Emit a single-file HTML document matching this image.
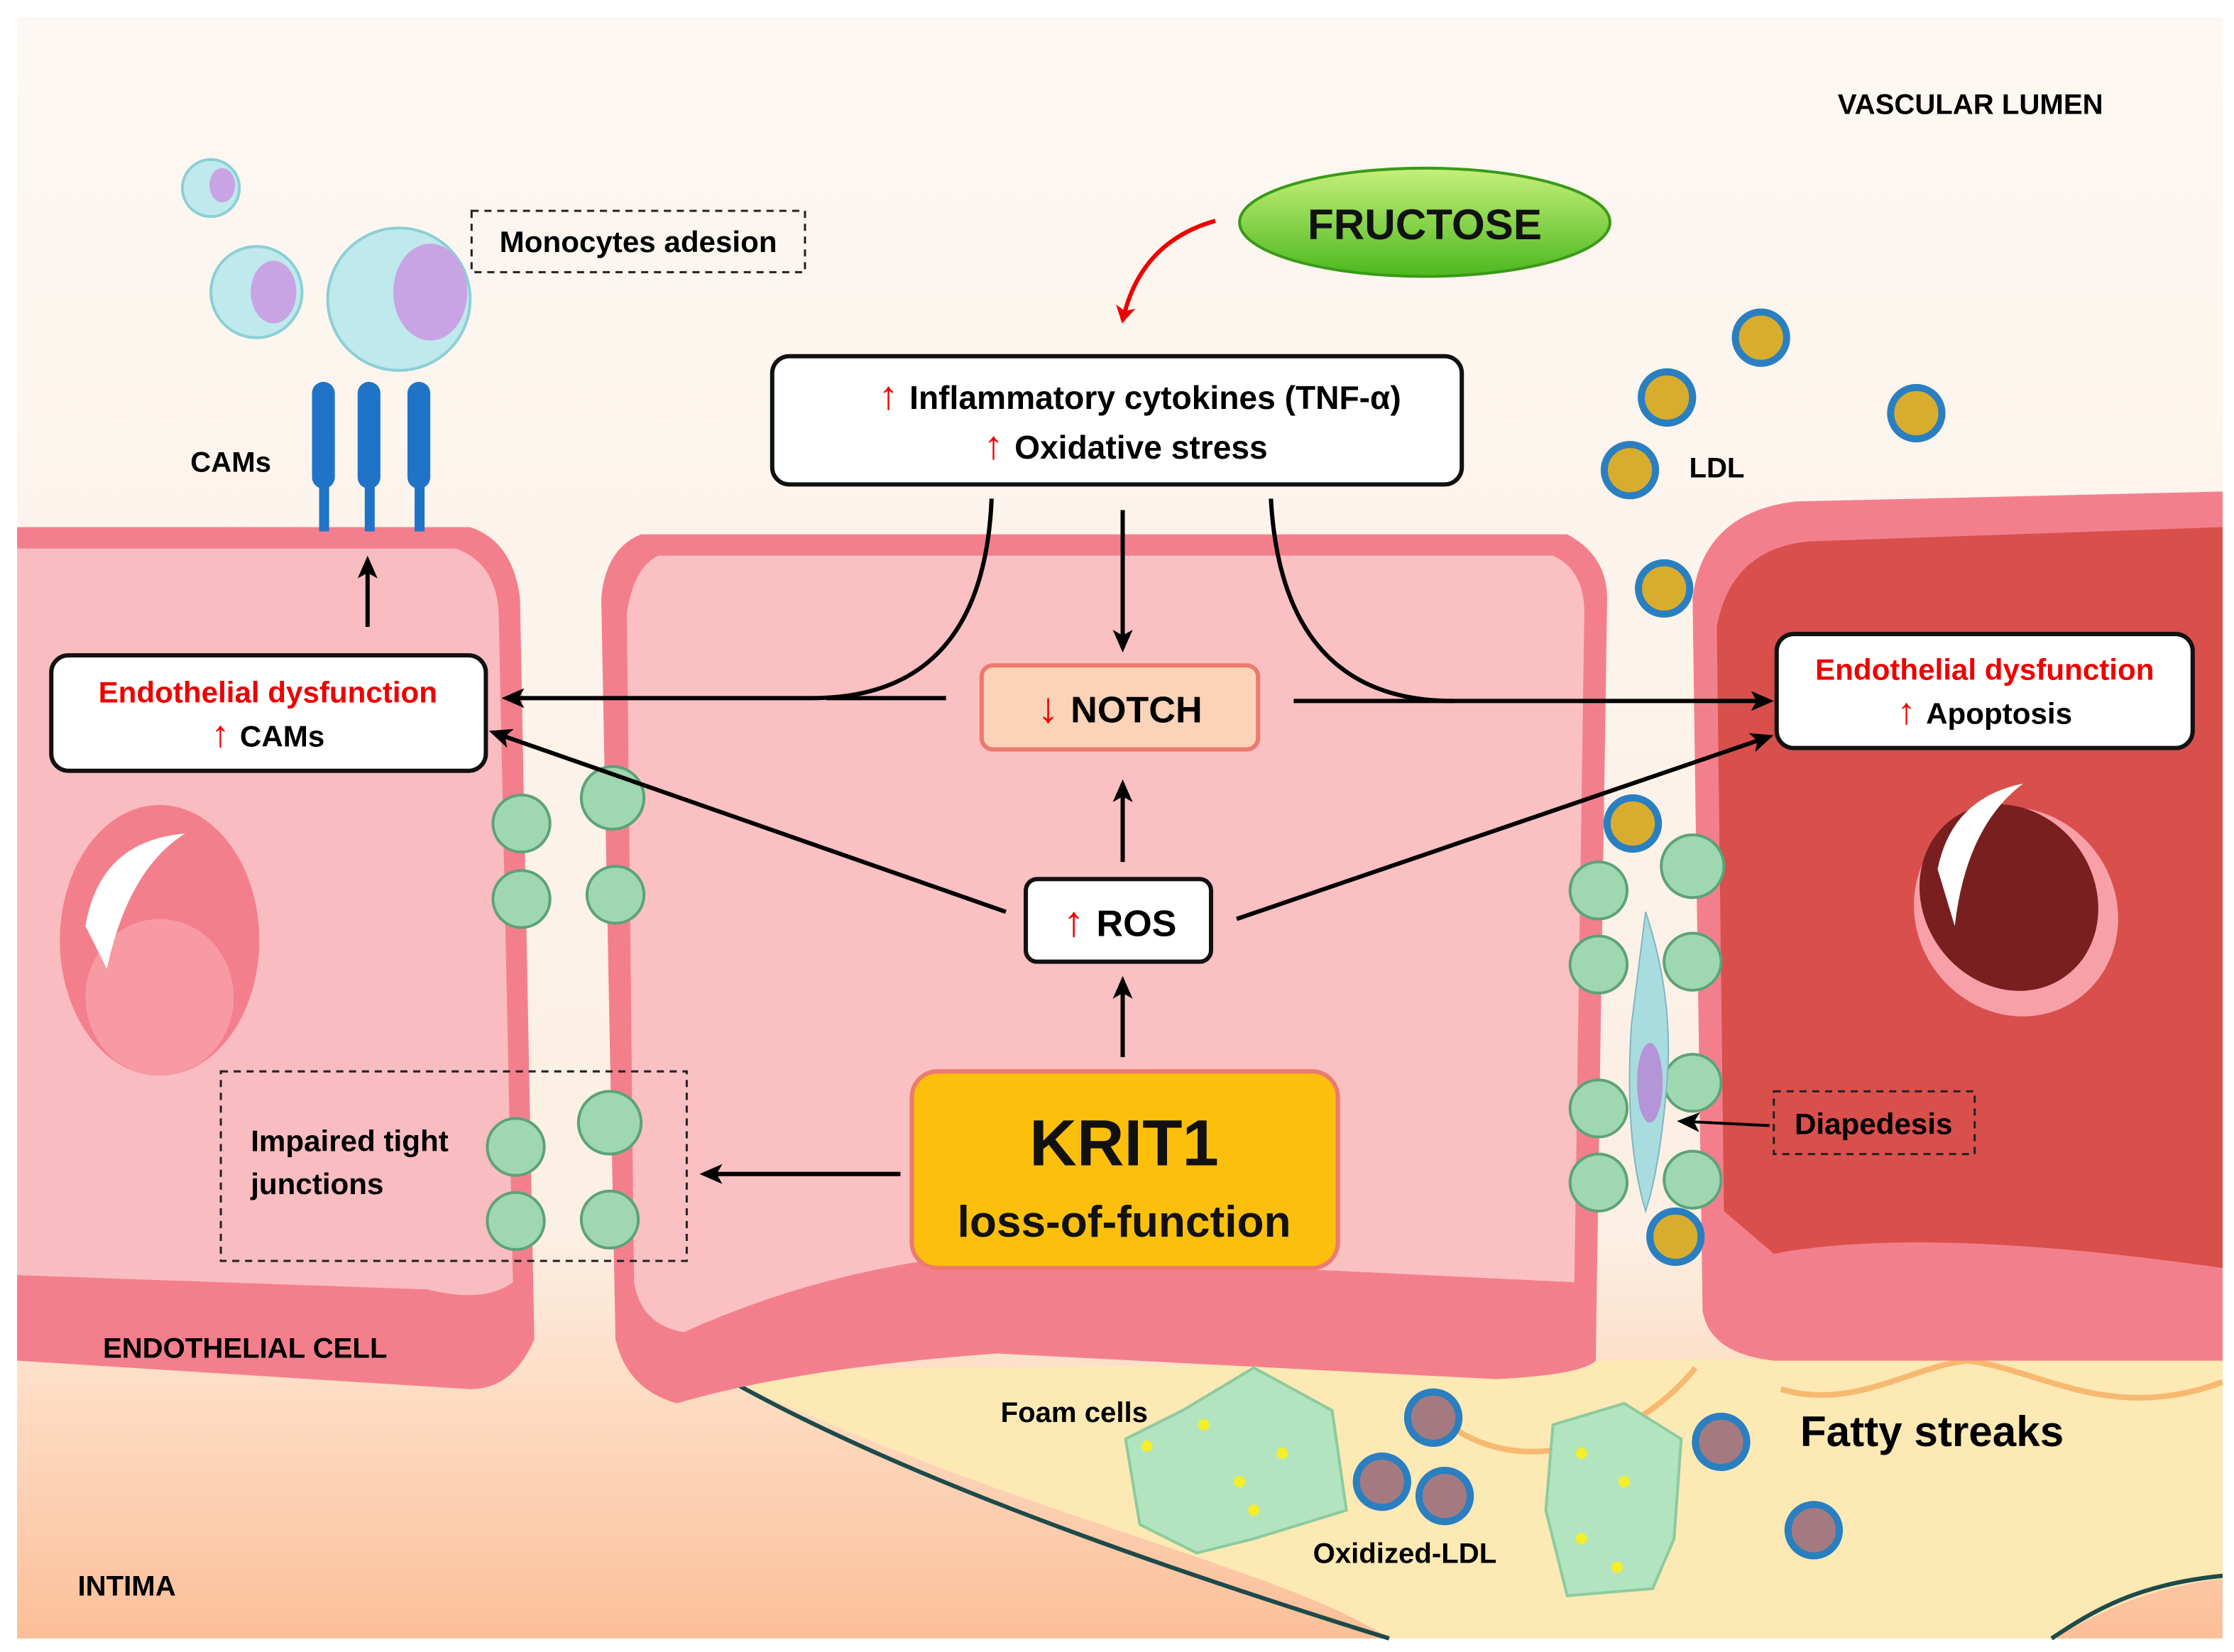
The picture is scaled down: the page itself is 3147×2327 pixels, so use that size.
<!DOCTYPE html>
<html><head><meta charset="utf-8"><style>
html,body{margin:0;padding:0;background:#fff}
svg{display:block}
text{font-family:"Liberation Sans",sans-serif;font-weight:bold}
</style></head><body>
<svg width="3147" height="2327" viewBox="0 0 1568 1159.5" preserveAspectRatio="none" xmlns="http://www.w3.org/2000/svg">
<defs>
<linearGradient id="bg" x1="0" y1="0" x2="0" y2="1">
<stop offset="0" stop-color="#fdf8f3"/><stop offset="0.75" stop-color="#fcefe3"/><stop offset="0.85" stop-color="#fddcc4"/><stop offset="1" stop-color="#fbbf98"/></linearGradient>
<linearGradient id="fr" x1="0" y1="0" x2="0" y2="1"><stop offset="0" stop-color="#c6f07a"/><stop offset="1" stop-color="#4cb81e"/></linearGradient>
<marker id="ah" markerWidth="16" markerHeight="14" refX="13" refY="7" orient="auto" markerUnits="userSpaceOnUse"><path d="M0,0 L16,7 L0,14 L4,7Z" fill="#000"/></marker>
<marker id="ahr" markerWidth="14" markerHeight="14" refX="10" refY="7" orient="auto" markerUnits="userSpaceOnUse"><path d="M0,0 L12,7 L0,14 L3,7Z" fill="#e00"/></marker>
</defs>
<rect x="12" y="12" width="1548" height="1138" fill="url(#bg)"/>
<!-- fatty region -->
<path d="M500,962 L1560,950 L1560,1108 C1500,1115 1470,1135 1440,1150 L975,1150 C900,1100 700,1060 500,962Z" fill="#fde9b4"/>
<path d="M500,962 C600,1020 750,1080 975,1150" fill="none" stroke="#1d4a4a" stroke-width="3"/>
<path d="M1440,1150 C1470,1130 1500,1112 1560,1106" fill="none" stroke="#1d4a4a" stroke-width="3"/>
<path d="M1000,985 C1060,1050 1150,1010 1190,960 M1250,975 C1300,990 1340,960 1380,955 C1430,960 1480,1000 1560,970" fill="none" stroke="#f7b970" stroke-width="4"/>
<!-- left cell -->
<path d="M12,370 L330,370 Q360,380 365,420 L375,940 Q360,975 330,975 L12,955Z" fill="#f47f8c"/>
<path d="M12,385 L320,385 Q348,395 350,430 L360,900 Q340,915 300,905 L12,895Z" fill="#f9bcc0"/>
<ellipse cx="112" cy="660" rx="70" ry="95" fill="#f47f8c"/>
<ellipse cx="112" cy="700" rx="52" ry="55" fill="#f79aa3"/>
<path d="M60,650 Q70,590 130,585 Q90,610 75,680Z" fill="#fff"/>
<!-- middle cell -->
<path d="M450,375 L1100,375 Q1128,390 1128,420 L1120,955 Q1110,965 1050,968 L700,950 Q560,960 475,985 Q440,975 432,940 L422,420 Q425,385 450,375Z" fill="#f47f8c"/>
<path d="M462,390 L1090,390 Q1112,400 1112,430 L1105,900 L690,880 Q580,890 480,935 Q450,930 445,900 L440,430 Q445,398 462,390Z" fill="#fbc0c2"/>
<!-- right cell -->
<path d="M1560,345 L1560,955 L1245,955 Q1200,950 1195,920 L1188,420 Q1195,360 1260,352Z" fill="#f47f8c"/>
<path d="M1560,370 L1560,890 Q1350,860 1245,880 L1210,850 L1205,440 Q1215,385 1270,380Z" fill="#d84f4c"/>
<ellipse cx="1415" cy="640" rx="70" ry="75" fill="#f7a0a8" transform="rotate(-35 1415 640)"/>
<ellipse cx="1410" cy="630" rx="60" ry="68" fill="#7a1f20" transform="rotate(-35 1410 630)"/>
<path d="M1360,610 Q1370,560 1420,550 Q1380,580 1372,650Z" fill="#fff"/>
<!-- junction balls -->
<g fill="#9fd8b0" stroke="#5da278" stroke-width="2">
<circle cx="366" cy="578" r="20"/><circle cx="366" cy="631" r="20"/><circle cx="430" cy="560" r="22"/><circle cx="432" cy="628" r="20"/>
<circle cx="362" cy="805" r="20"/><circle cx="362" cy="857" r="20"/><circle cx="428" cy="788" r="22"/><circle cx="428" cy="856" r="20"/>
<circle cx="1122" cy="625" r="20"/><circle cx="1122" cy="677" r="20"/><circle cx="1188" cy="608" r="22"/><circle cx="1188" cy="675" r="20"/>
<circle cx="1122" cy="778" r="20"/><circle cx="1122" cy="830" r="20"/><circle cx="1188" cy="760" r="20"/><circle cx="1188" cy="828" r="20"/>
</g>
<path d="M1155,640 Q1175,700 1170,760 Q1165,820 1155,850 Q1140,800 1145,720Z" fill="#a8dcdf" stroke="#7fb7c2"/>
<ellipse cx="1158" cy="760" rx="9" ry="28" fill="#b496d8"/>
<!-- monocytes -->
<g stroke="#8ccfd6" stroke-width="2">
<circle cx="148" cy="132" r="20" fill="#bfe9ec"/><circle cx="180" cy="205" r="32" fill="#bfe9ec"/><circle cx="280" cy="210" r="50" fill="#bfe9ec"/></g>
<ellipse cx="156" cy="130" rx="9" ry="12" fill="#c9a4e4"/><ellipse cx="192" cy="205" rx="16" ry="22" fill="#c9a4e4"/><ellipse cx="302" cy="205" rx="26" ry="34" fill="#c9a4e4"/>
<!-- CAMs -->
<g fill="#1f74c8"><rect x="219" y="268" width="16" height="75" rx="8"/><rect x="251" y="268" width="16" height="75" rx="8"/><rect x="286" y="268" width="16" height="75" rx="8"/>
<rect x="224" y="335" width="7" height="38"/><rect x="256" y="335" width="7" height="38"/><rect x="291" y="335" width="7" height="38"/></g>
<!-- LDL -->
<g fill="#d8ad2e" stroke="#2a7fc1" stroke-width="5">
<circle cx="1236" cy="237" r="18"/><circle cx="1170" cy="279" r="18"/><circle cx="1345" cy="290" r="18"/><circle cx="1144" cy="330" r="18"/><circle cx="1168" cy="413" r="18"/><circle cx="1146" cy="578" r="18"/><circle cx="1176" cy="868" r="18"/></g>
<g fill="#a47a80" stroke="#2a7fc1" stroke-width="5">
<circle cx="1006" cy="995" r="18"/><circle cx="970" cy="1040" r="18"/><circle cx="1014" cy="1050" r="18"/><circle cx="1208" cy="1012" r="18"/><circle cx="1273" cy="1074" r="18"/></g>
<!-- foam cells -->
<g fill="#b2e4bf" stroke="#8ccb9f" stroke-width="2">
<path d="M790,1010 L830,990 L880,960 L935,990 L945,1060 L880,1080 L840,1090 L800,1070Z"/>
<path d="M1090,1000 L1140,985 L1180,1010 L1175,1080 L1160,1115 L1100,1120 L1085,1060Z"/></g>
<g fill="#f4ef2a"><circle cx="805" cy="1015" r="4"/><circle cx="845" cy="1000" r="4"/><circle cx="870" cy="1040" r="4"/><circle cx="900" cy="1020" r="4"/><circle cx="880" cy="1060" r="4"/><circle cx="1110" cy="1020" r="4"/><circle cx="1140" cy="1040" r="4"/><circle cx="1110" cy="1080" r="4"/><circle cx="1135" cy="1100" r="4"/></g>
<!-- fructose -->
<ellipse cx="1000" cy="156" rx="130" ry="38" fill="url(#fr)" stroke="#3a9a18" stroke-width="2"/>
<text x="1000" y="168" font-size="30" text-anchor="middle" fill="#111">FRUCTOSE</text>
<path d="M853,155 Q800,170 788,225" fill="none" stroke="#e00" stroke-width="3" marker-end="url(#ahr)"/>
<!-- cytokines box -->
<rect x="542" y="250" width="484" height="90" rx="12" fill="#fff" stroke="#111" stroke-width="3"/>
<text x="800" y="287" font-size="23" text-anchor="middle"><tspan fill="#e00" font-size="28">↑ </tspan>Inflammatory cytokines (TNF-α)</text>
<text x="790" y="322" font-size="23" text-anchor="middle"><tspan fill="#e00" font-size="28">↑ </tspan>Oxidative stress</text>
<!-- connectors -->
<g fill="none" stroke="#000" stroke-width="3">
<path d="M788,358 L788,455" marker-end="url(#ah)"/>
<path d="M696,350 Q690,490 570,490 L355,490" marker-end="url(#ah)"/>
<path d="M664,490 L580,490"/>
<path d="M892,350 Q900,492 1020,492 L1242,492" marker-end="url(#ah)"/>
<path d="M908,492 L1020,492"/>
<path d="M788,605 L788,550" marker-end="url(#ah)"/>
<path d="M788,742 L788,688" marker-end="url(#ah)"/>
<path d="M706,640 L346,514" marker-end="url(#ah)"/>
<path d="M868,645 L1242,517" marker-end="url(#ah)"/>
<path d="M632,824 L494,824" marker-end="url(#ah)"/>
<path d="M258,440 L258,393" marker-end="url(#ah)"/>
<path d="M1242,790 L1180,787" stroke-width="2" marker-end="url(#ah)"/>
</g>
<!-- NOTCH -->
<rect x="689" y="467" width="194" height="59" rx="8" fill="#fbd3b8" stroke="#ec7a6e" stroke-width="3"/>
<text x="786" y="507" font-size="26" text-anchor="middle"><tspan fill="#e00" font-size="30">↓ </tspan>NOTCH</text>
<!-- ROS -->
<rect x="720" y="617" width="130" height="58" rx="8" fill="#fff" stroke="#111" stroke-width="3"/>
<text x="786" y="657" font-size="26" text-anchor="middle"><tspan fill="#e00" font-size="30">↑ </tspan>ROS</text>
<!-- KRIT1 -->
<rect x="640" y="752" width="299" height="138" rx="18" fill="#fcc00c" stroke="#ec7a6e" stroke-width="3"/>
<text x="789" y="818" font-size="46" text-anchor="middle" fill="#111">KRIT1</text>
<text x="789" y="868" font-size="31" text-anchor="middle" fill="#111">loss-of-function</text>
<!-- ED boxes -->
<rect x="36" y="460" width="305" height="81" rx="12" fill="#fff" stroke="#111" stroke-width="3"/>
<text x="188" y="493" font-size="21" text-anchor="middle" fill="#e00">Endothelial dysfunction</text>
<text x="188" y="524" font-size="21" text-anchor="middle"><tspan fill="#e00" font-size="26">↑ </tspan>CAMs</text>
<rect x="1247" y="445" width="292" height="80" rx="12" fill="#fff" stroke="#111" stroke-width="3"/>
<text x="1393" y="477" font-size="21" text-anchor="middle" fill="#e00">Endothelial dysfunction</text>
<text x="1393" y="508" font-size="21" text-anchor="middle"><tspan fill="#e00" font-size="26">↑ </tspan>Apoptosis</text>
<!-- dashed boxes -->
<g fill="none" stroke="#222" stroke-width="1.5" stroke-dasharray="5,4">
<rect x="331" y="148" width="234" height="43"/>
<rect x="155" y="752" width="327" height="133"/>
<rect x="1245" y="766" width="141" height="44"/></g>
<text x="448" y="177" font-size="21" text-anchor="middle">Monocytes adesion</text>
<text x="176" y="808" font-size="21">Impaired tight</text>
<text x="176" y="838" font-size="21">junctions</text>
<text x="1315" y="796" font-size="21" text-anchor="middle">Diapedesis</text>
<text x="1383" y="80" font-size="20" text-anchor="middle">VASCULAR LUMEN</text>
<text x="162" y="331" font-size="20" text-anchor="middle">CAMs</text>
<text x="1205" y="335" font-size="20" text-anchor="middle">LDL</text>
<text x="172" y="953" font-size="20" text-anchor="middle">ENDOTHELIAL CELL</text>
<text x="89" y="1120" font-size="20" text-anchor="middle">INTIMA</text>
<text x="754" y="998" font-size="20" text-anchor="middle">Foam cells</text>
<text x="986" y="1097" font-size="20" text-anchor="middle">Oxidized-LDL</text>
<text x="1356" y="1015" font-size="30" text-anchor="middle">Fatty streaks</text>
</svg>
</body></html>
